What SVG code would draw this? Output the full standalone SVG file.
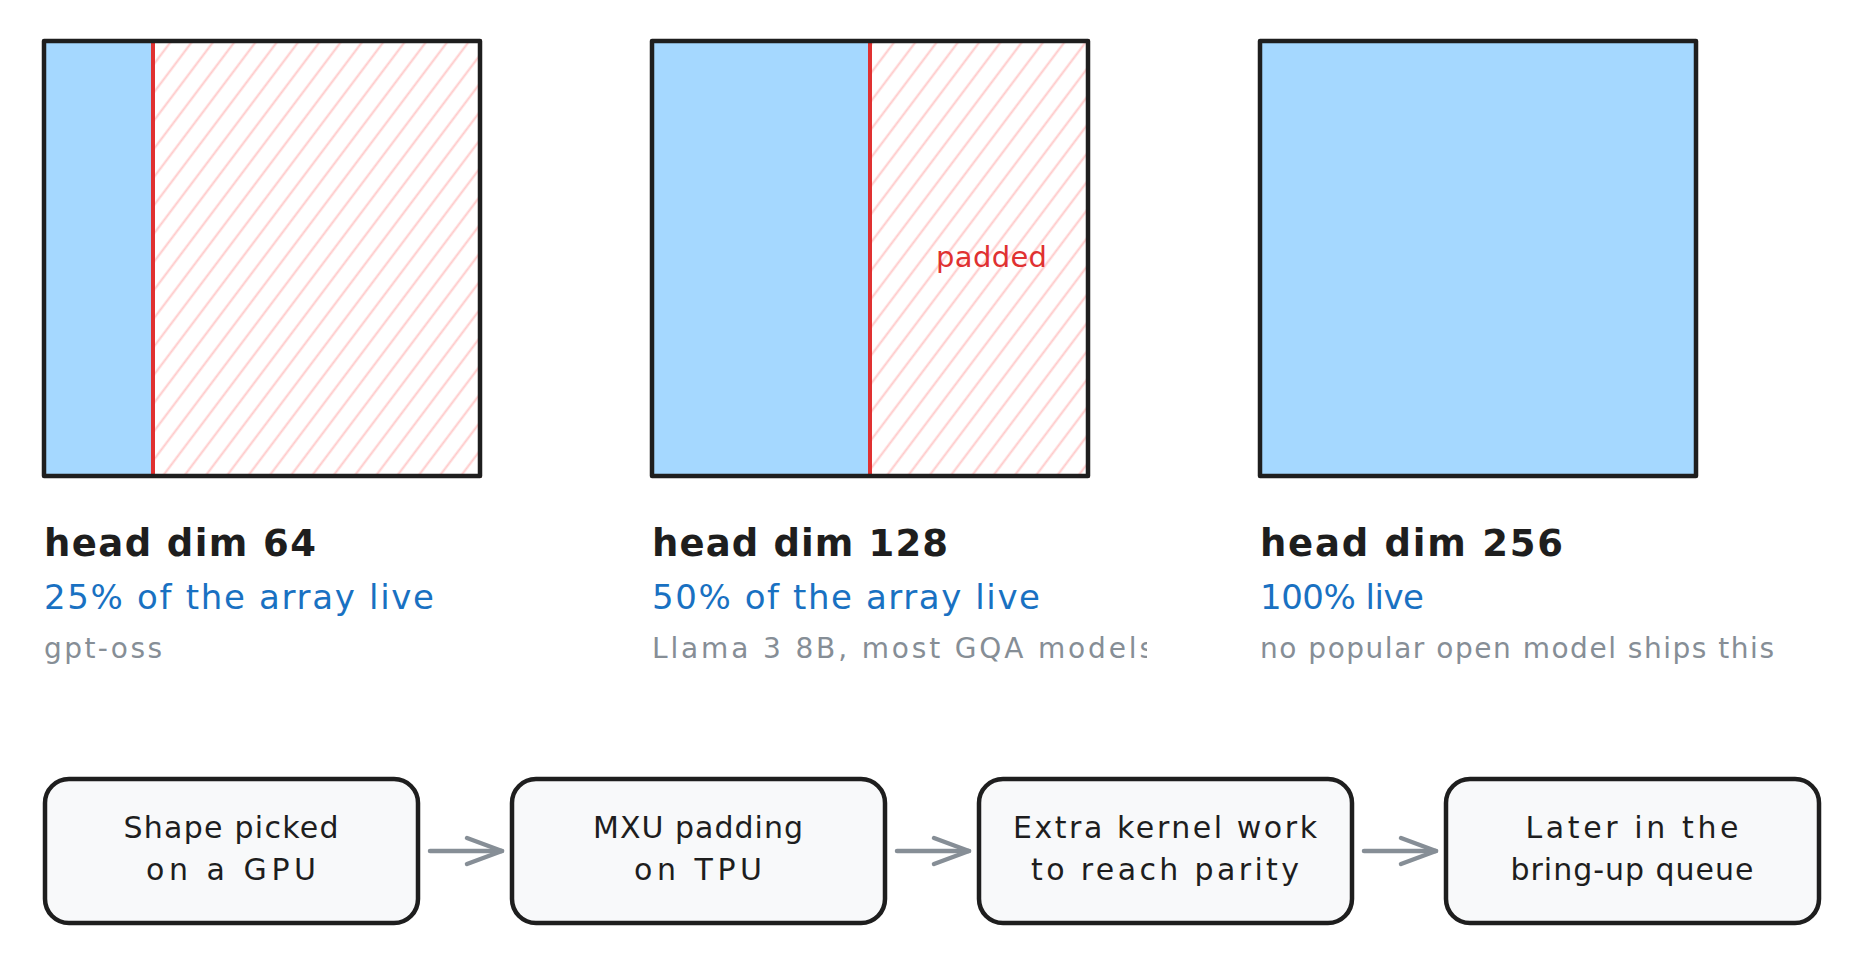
<svg xmlns="http://www.w3.org/2000/svg" width="1876" height="976" viewBox="0 0 1876 976">
<defs>
<pattern id="hatch" patternUnits="userSpaceOnUse" width="17" height="17" patternTransform="rotate(37)">
<line x1="8.5" y1="-2" x2="8.5" y2="19" stroke="#ffc9c9" stroke-width="2"/>
</pattern>
<marker id="arr" markerUnits="userSpaceOnUse" viewBox="-40 -18 46 36" markerWidth="46" markerHeight="36" refX="0" refY="0" orient="auto">
<path d="M -35 -13 L 0 0 L -35 13" fill="none" stroke="#868e96" stroke-width="4.5" stroke-linecap="round" stroke-linejoin="round"/>
</marker>
<clipPath id="clip128"><rect x="600" y="620" width="547" height="60"/></clipPath>
</defs>
<style>
.live{fill:#a5d8ff;stroke:#1971c2;stroke-width:2}
.pad{fill:url(#hatch);stroke:#e03131;stroke-width:3}
.div{stroke:#e03131;stroke-width:4}
.frame{fill:none;stroke:#1e1e1e;stroke-width:4.5;stroke-linejoin:round}
.title{font-family:"DejaVu Sans",sans-serif;font-weight:bold;font-size:37px;fill:#1e1e1e}
.pct{font-family:"DejaVu Sans",sans-serif;font-size:34px;fill:#1971c2}
.note{font-family:"DejaVu Sans",sans-serif;font-size:28px;fill:#868e96}
.padlbl{font-family:"DejaVu Sans",sans-serif;font-size:29px;fill:#e03131}
.node rect{fill:#f8f9fa;stroke:#1e1e1e;stroke-width:4.5}
.node text{font-family:"DejaVu Sans",sans-serif;font-size:30px;fill:#1e1e1e;text-anchor:middle}
.conn line{stroke:#868e96;stroke-width:4.5;stroke-linecap:round}
</style>
<rect width="1876" height="976" fill="#ffffff"/>

<g id="panel-64">
<rect class="live" x="44" y="41" width="109" height="435"/>
<rect class="pad" x="153" y="41" width="327" height="435"/>
<line class="div" x1="153" y1="43" x2="153" y2="474"/>
<rect class="frame" x="44" y="41" width="436" height="435"/>
<text class="title" x="44" y="556" textLength="272">head dim 64</text>
<text class="pct" x="44" y="609" textLength="390">25% of the array live</text>
<text class="note" x="44" y="658" textLength="118">gpt-oss</text>
</g>

<g id="panel-128">
<rect class="live" x="652" y="41" width="218" height="435"/>
<rect class="pad" x="870" y="41" width="218" height="435"/>
<line class="div" x1="870" y1="43" x2="870" y2="474"/>
<rect class="frame" x="652" y="41" width="436" height="435"/>
<text class="padlbl" x="936" y="267" textLength="111">padded</text>
<text class="title" x="652" y="556" textLength="296">head dim 128</text>
<text class="pct" x="652" y="609" textLength="388">50% of the array live</text>
<text class="note" x="652" y="658" textLength="502" clip-path="url(#clip128)">Llama 3 8B, most GQA models</text>
</g>

<g id="panel-256">
<rect class="live" x="1260" y="41" width="436" height="435"/>
<rect class="frame" x="1260" y="41" width="436" height="435"/>
<text class="title" x="1260" y="556" textLength="303">head dim 256</text>
<text class="pct" x="1260" y="609" textLength="164">100% live</text>
<text class="note" x="1260" y="658" textLength="514">no popular open model ships this</text>
</g>

<g id="node-1" class="node">
<rect x="45" y="779" width="373" height="144" rx="24"/>
<text x="231" y="838" textLength="215">Shape picked</text>
<text x="231" y="880" textLength="170">on a GPU</text>
</g>
<g id="node-2" class="node">
<rect x="512" y="779" width="373" height="144" rx="24"/>
<text x="698" y="838" textLength="210">MXU padding</text>
<text x="698" y="880" textLength="128">on TPU</text>
</g>
<g id="node-3" class="node">
<rect x="979" y="779" width="373" height="144" rx="24"/>
<text x="1165" y="838" textLength="304">Extra kernel work</text>
<text x="1165" y="880" textLength="268">to reach parity</text>
</g>
<g id="node-4" class="node">
<rect x="1446" y="779" width="373" height="144" rx="24"/>
<text x="1632" y="838" textLength="213">Later in the</text>
<text x="1632" y="880" textLength="243">bring-up queue</text>
</g>

<g id="connectors" class="conn">
<line x1="430" y1="851" x2="502" y2="851" marker-end="url(#arr)"/>
<line x1="897" y1="851" x2="969" y2="851" marker-end="url(#arr)"/>
<line x1="1364" y1="851" x2="1436" y2="851" marker-end="url(#arr)"/>
</g>
</svg>
